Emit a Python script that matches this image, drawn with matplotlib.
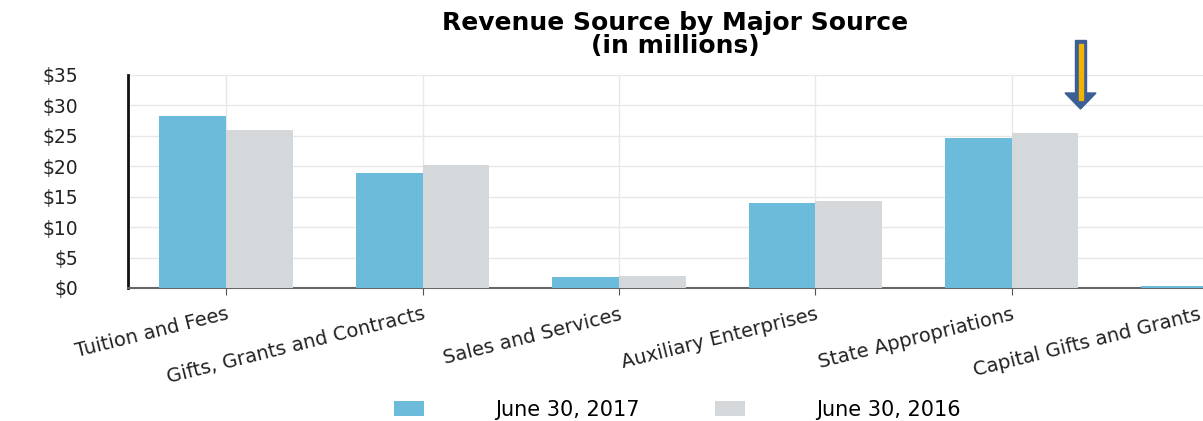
import numpy as np
import matplotlib.pyplot as plt
import matplotlib.transforms as mtransforms
from matplotlib.patches import Polygon, Rectangle

plt.rcParams['font.family'] = ['DejaVu Sans']

# data (in millions)
categories = ['Tuition and Fees', 'Gifts, Grants and Contracts', 'Sales and Services',
              'Auxiliary Enterprises', 'State Appropriations', 'Capital Gifts and Grants']
fy2017 = [28.2, 18.9, 1.8, 13.9, 24.6, 0.25]
fy2016 = [26.0, 20.2, 2.0, 14.3, 25.5, 0.2]
series_labels = ['June 30, 2017', 'June 30, 2016']
yticks = [0, 5, 10, 15, 20, 25, 30, 35]

blue = '#6cbbdb'
grey = '#d5d8da'

fig = plt.figure(figsize=(12.03, 4.21), dpi=100)
ax = fig.add_axes([128 / 1203, 1 - 288 / 421, 1080 / 1203, 213 / 421])

x = np.arange(len(categories))
w = 0.34
ax.bar(x - w / 2, fy2017, w, color=blue, label=series_labels[0], zorder=3)
ax.bar(x + w / 2, fy2016, w, color=grey, label=series_labels[1], zorder=3)

ax.set_xlim(-0.5, 5.0)
ax.set_ylim(0, 35)
ax.set_yticks(yticks)
ax.set_yticklabels(['$%d' % v for v in yticks], fontsize=13.5, color='#222222')
ax.set_xticks(x)
ax.set_xticklabels(categories, rotation=14, ha='right', rotation_mode='anchor',
                   fontsize=14, color='#222222')
ax.tick_params(axis='y', length=0, pad=36)
ax.tick_params(axis='x', length=5, color='#555555', pad=7)

# last label sits a bit left of its tick so it stays inside the picture
lbls = ax.get_xticklabels()
lbls[-1].set_transform(lbls[-1].get_transform() +
                       mtransforms.ScaledTranslation(-0.1, 0, fig.dpi_scale_trans))

ax.grid(True, color='#e8e8e8', linewidth=1, zorder=0)
for s in ['top', 'right']:
    ax.spines[s].set_visible(False)
ax.spines['left'].set_color('#111111')
ax.spines['left'].set_linewidth(2)
ax.spines['bottom'].set_color('#666666')
ax.spines['bottom'].set_linewidth(1.5)

fig.text(0.561, 0.975, 'Revenue Source by Major Source\n(in millions)', ha='center', va='top',
         fontsize=18, fontweight='bold', linespacing=0.95)

fig.legend(loc='center', bbox_to_anchor=(0.563, 1 - 410 / 421), ncol=2, frameon=False,
           fontsize=15, handlelength=1.45, handleheight=0.7, handletextpad=3.4,
           columnspacing=3.6)

# annotation arrow
ax_px = lambda px, py: (px / 1203, 1 - py / 421)
shaft = Rectangle(ax_px(1075, 95), 11 / 1203, 55 / 421, transform=fig.transFigure,
                  color='#3b5f94', zorder=10)
head = Polygon([ax_px(1065, 93), ax_px(1096, 93), ax_px(1080.5, 109)], closed=True,
               transform=fig.transFigure, color='#3b5f94', zorder=10)
inner = Rectangle(ax_px(1078.5, 100), 4 / 1203, 56 / 421, transform=fig.transFigure,
                  color='#f2b400', zorder=11)
fig.add_artist(shaft)
fig.add_artist(head)
fig.add_artist(inner)

fig.savefig('out.png', dpi=100)
